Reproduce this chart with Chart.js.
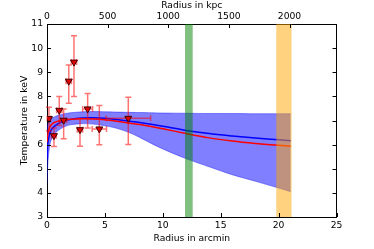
<!DOCTYPE html>
<html>
<head>
<meta charset="utf-8">
<script src="https://cdn.jsdelivr.net/npm/chart.js@4"></script>
<style>
  body { margin: 0; background: #fff; }
  #wrap { width: 374px; height: 249px; }
</style>
</head>
<body>
<div id="wrap"><canvas id="tempChart" width="374" height="249"></canvas></div>
<script>
// Measured profile (arcmin, keV)
const radiusArcmin = [0.17, 0.6, 1.06, 1.44, 1.88, 2.33, 2.85, 3.51, 4.52, 7.02];
const radiusErr = [0.15, 0.2, 0.23, 0.26, 0.23, 0.23, 0.23, 0.43, 0.62, 1.93];
const temperature = [7.08, 6.37, 7.42, 7.01, 8.63, 9.42, 6.62, 7.48, 6.65, 7.09];
const tempErrUp = [0.47, 0.32, 0.58, 0.47, 0.67, 1.09, 0.46, 0.64, 0.97, 0.87];
const tempErrDown = [0.5, 0.45, 0.63, 0.77, 0.92, 1.42, 0.69, 0.79, 0.66, 1.08];

// Model curves
const modelRadius = [0, 0.05, 0.1, 0.2, 0.3, 0.5, 0.75, 1, 1.5, 2, 3, 4, 5, 6, 7, 8, 9, 10, 12, 14, 16, 18, 20, 21.05];
const modelBlue = [5.4, 5.9, 6.15, 6.4, 6.55, 6.7, 6.8, 6.88, 6.98, 7.04, 7.1, 7.11, 7.09, 7.04, 6.98, 6.92, 6.84, 6.76, 6.59, 6.46, 6.36, 6.27, 6.2, 6.16];
const modelRed = [6.1, 6.35, 6.5, 6.68, 6.78, 6.88, 6.94, 6.98, 7.02, 7.05, 7.07, 7.06, 7.03, 6.97, 6.9, 6.83, 6.75, 6.66, 6.46, 6.28, 6.15, 6.05, 5.97, 5.93];
const bandUpper = [6.6, 6.8, 6.9, 7.0, 7.05, 7.12, 7.18, 7.22, 7.28, 7.32, 7.36, 7.37, 7.36, 7.35, 7.34, 7.33, 7.32, 7.31, 7.3, 7.29, 7.29, 7.28, 7.28, 7.28];
const bandLower = [4.4, 5.0, 5.4, 5.85, 6.1, 6.35, 6.5, 6.6, 6.74, 6.82, 6.87, 6.85, 6.78, 6.68, 6.52, 6.3, 6.05, 5.82, 5.42, 5.08, 4.75, 4.48, 4.2, 4.05];

// Vertical marker bands (arcmin)
const greenBand = [11.92, 12.58];
const orangeBand = [19.8, 21.12];

const kpcPerArcmin = 95.5;
const xTicksTop = [0, 500, 1000, 1500, 2000];

const FONT = { family: 'DejaVu Sans', size: 9.2 };

function xy(xs, ys) {
    return xs.map((x, i) => ({ x: x, y: ys[i] }));
}

// error bars under the markers
const errorBars = {
    id: 'errorBars',
    beforeDatasetDraw(chart, args) {
        if (args.index !== 0) return;
        const { ctx, scales } = chart;
        const cap = 3;
        ctx.save();
        ctx.strokeStyle = 'rgba(255,0,0,0.55)';
        ctx.lineWidth = 1.5;
        ctx.beginPath();
        radiusArcmin.forEach((r, i) => {
            const px = scales.x.getPixelForValue(r);
            const py = scales.y.getPixelForValue(temperature[i]);
            const yTop = scales.y.getPixelForValue(temperature[i] + tempErrUp[i]);
            const yBot = scales.y.getPixelForValue(temperature[i] - tempErrDown[i]);
            const xL = scales.x.getPixelForValue(r - radiusErr[i]);
            const xR = scales.x.getPixelForValue(r + radiusErr[i]);
            ctx.moveTo(px, yTop); ctx.lineTo(px, yBot);
            ctx.moveTo(px - cap, yTop); ctx.lineTo(px + cap, yTop);
            ctx.moveTo(px - cap, yBot); ctx.lineTo(px + cap, yBot);
            ctx.moveTo(xL, py); ctx.lineTo(xR, py);
            ctx.moveTo(xL, py - cap); ctx.lineTo(xL, py + cap);
            ctx.moveTo(xR, py - cap); ctx.lineTo(xR, py + cap);
        });
        ctx.stroke();
        ctx.restore();
    }
};

// shaded radius bands
const radiusBands = {
    id: 'radiusBands',
    afterDatasetsDraw(chart) {
        const { ctx, scales, chartArea } = chart;
        const draw = (band, color) => {
            const x0 = scales.x.getPixelForValue(band[0]);
            const x1 = scales.x.getPixelForValue(band[1]);
            ctx.fillStyle = color;
            ctx.fillRect(x0, chartArea.top, x1 - x0, chartArea.bottom - chartArea.top);
        };
        ctx.save();
        draw(greenBand, 'rgba(0,128,0,0.5)');
        draw(orangeBand, 'rgba(255,165,0,0.5)');
        ctx.restore();
    }
};

// matplotlib style ticks pointing inward
const inwardTicks = {
    id: 'inwardTicks',
    afterDraw(chart) {
        const { ctx, scales, chartArea: a } = chart;
        const len = 4;
        ctx.save();
        ctx.strokeStyle = '#000';
        ctx.lineWidth = 1;
        ctx.beginPath();
        scales.x.ticks.forEach(t => {
            const p = Math.round(scales.x.getPixelForValue(t.value)) + 0.5;
            ctx.moveTo(p, a.bottom); ctx.lineTo(p, a.bottom - len);
        });
        scales.xTop.ticks.forEach(t => {
            const p = Math.round(scales.xTop.getPixelForValue(t.value)) + 0.5;
            ctx.moveTo(p, a.top); ctx.lineTo(p, a.top + len);
        });
        scales.y.ticks.forEach(t => {
            const p = Math.round(scales.y.getPixelForValue(t.value)) + 0.5;
            ctx.moveTo(a.left, p); ctx.lineTo(a.left + len, p);
            ctx.moveTo(a.right, p); ctx.lineTo(a.right - len, p);
        });
        ctx.stroke();
        ctx.restore();
    }
};

const plainGrid = { drawOnChartArea: false, drawTicks: false };
const frame = { display: true, color: '#000', width: 1 };

const ctx = document.getElementById('tempChart').getContext('2d');
new Chart(ctx, {
    type: 'line',
    data: {
        datasets: [
            {
                label: 'data',
                data: xy(radiusArcmin, temperature),
                showLine: false,
                pointStyle: 'triangle',
                rotation: 180,
                pointRadius: 4,
                backgroundColor: '#e00000',
                borderColor: '#400000',
                borderWidth: 1,
                order: 0
            },
            {
                label: 'red model',
                data: xy(modelRadius, modelRed),
                borderColor: '#ff0000',
                borderWidth: 1.5,
                pointRadius: 0,
                tension: 0.3,
                order: 1
            },
            {
                label: 'blue model',
                data: xy(modelRadius, modelBlue),
                borderColor: '#0000ff',
                borderWidth: 1.5,
                pointRadius: 0,
                tension: 0.3,
                order: 2
            },
            {
                label: 'upper',
                data: xy(modelRadius, bandUpper),
                borderColor: 'rgba(0,0,255,0.5)',
                borderWidth: 0.8,
                backgroundColor: 'rgba(0,0,255,0.5)',
                pointRadius: 0,
                tension: 0.3,
                fill: '+1',
                order: 3
            },
            {
                label: 'lower',
                data: xy(modelRadius, bandLower),
                borderColor: 'rgba(0,0,255,0.5)',
                borderWidth: 0.8,
                pointRadius: 0,
                tension: 0.3,
                fill: false,
                order: 4
            }
        ]
    },
    options: {
        responsive: false,
        devicePixelRatio: 1,
        animation: false,
        layout: { padding: 0 },
        plugins: {
            legend: { display: false },
            tooltip: { enabled: false }
        },
        scales: {
            x: {
                type: 'linear',
                position: 'bottom',
                min: 0,
                max: 25,
                ticks: { stepSize: 5, color: '#000', font: FONT, padding: 3, maxRotation: 0 },
                grid: plainGrid,
                border: frame,
                title: { display: true, text: 'Radius in arcmin', color: '#000', font: FONT, padding: { top: 0, bottom: 5 } },
                afterFit: s => { s.height = 32; }
            },
            xTop: {
                type: 'linear',
                position: 'top',
                min: 0,
                max: 25 * kpcPerArcmin,
                afterBuildTicks: s => { s.ticks = xTicksTop.map(v => ({ value: v })); },
                ticks: { color: '#000', font: FONT, padding: 2, maxRotation: 0, includeBounds: false, callback: v => String(v) },
                grid: plainGrid,
                border: frame,
                title: { display: true, text: 'Radius in kpc', color: '#000', font: FONT, padding: { top: 0, bottom: 0 } },
                afterFit: s => { s.height = 24; }
            },
            y: {
                type: 'linear',
                position: 'left',
                min: 3,
                max: 11,
                ticks: { stepSize: 1, color: '#000', font: FONT, padding: 4 },
                grid: plainGrid,
                border: frame,
                title: { display: true, text: 'Temperature in keV', color: '#000', font: FONT, padding: { top: 19, bottom: 0 } },
                afterFit: s => { s.width = 47; }
            },
            y2: {
                type: 'linear',
                position: 'right',
                min: 3,
                max: 11,
                ticks: { display: false, stepSize: 1 },
                grid: plainGrid,
                border: frame,
                afterFit: s => { s.width = 37.5; }
            }
        }
    },
    plugins: [errorBars, radiusBands, inwardTicks]
});
</script>
</body>
</html>
